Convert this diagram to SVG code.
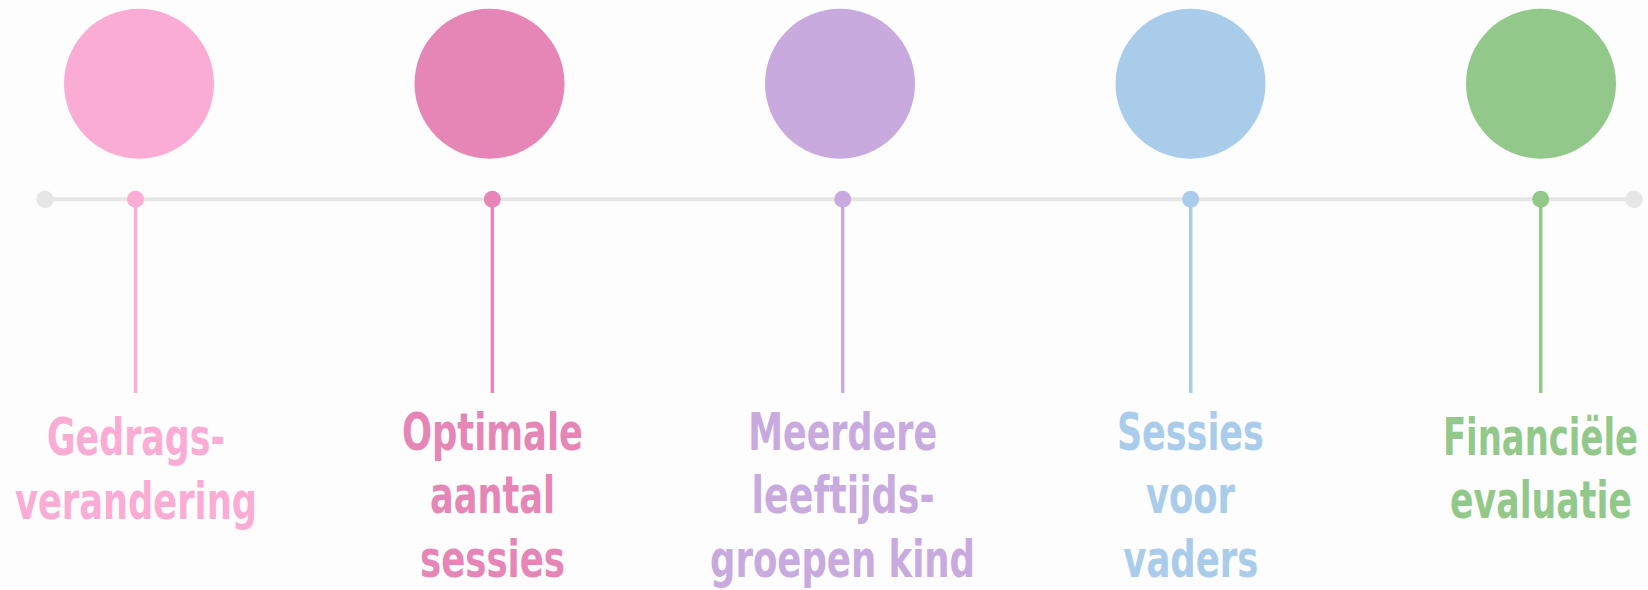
<svg xmlns="http://www.w3.org/2000/svg" width="1648" height="590" viewBox="0 0 1648 590">
<style>
.lbl{font-family:"Liberation Sans Narrow","DejaVu Sans Condensed","Liberation Sans",sans-serif;font-weight:bold;font-size:52px;text-anchor:middle}
.axis{stroke:#E6E6E6;stroke-width:4;fill:none}
.end{fill:#E6E6E6}
.c1{fill:#FAACD5}.s1{stroke:#FAACD5}
.c2{fill:#E686B6}.s2{stroke:#E686B6}
.c3{fill:#C8AADE}.s3{stroke:#C8AADE}
.c4{fill:#A8CCEA}.s4{stroke:#A8CCEA}
.c5{fill:#92C98A}.s5{stroke:#92C98A}
.stem{stroke-width:3.5;fill:none}
</style>
<rect x="0" y="0" width="1648" height="590" fill="#FDFDFD"/>
<g id="connectors">
<line class="axis" x1="45" y1="199.3" x2="1634" y2="199.3"/>
<circle class="end" cx="45" cy="199.3" r="8.7"/>
<circle class="end" cx="1634" cy="199.3" r="8.7"/>
<line class="stem s1" x1="135.5" y1="199" x2="135.5" y2="393"/>
<line class="stem s2" x1="492.3" y1="199" x2="492.3" y2="393"/>
<line class="stem s3" x1="842.7" y1="199" x2="842.7" y2="393"/>
<line class="stem s4" x1="1190.7" y1="199" x2="1190.7" y2="393"/>
<line class="stem s5" x1="1540.7" y1="199" x2="1540.7" y2="393"/>
</g>
<g id="node1">
<circle class="c1" cx="139" cy="83.7" r="75"/>
<circle class="c1" cx="135.5" cy="199.3" r="8.5"/>
<text class="lbl c1"><tspan x="136" y="455" textLength="178" lengthAdjust="spacingAndGlyphs">Gedrags-</tspan><tspan x="136" y="518.5" textLength="242" lengthAdjust="spacingAndGlyphs">verandering</tspan></text>
</g>
<g id="node2">
<circle class="c2" cx="489.5" cy="83.7" r="75"/>
<circle class="c2" cx="492.3" cy="199.3" r="8.5"/>
<text class="lbl c2"><tspan x="492.5" y="449.5" textLength="181" lengthAdjust="spacingAndGlyphs">Optimale</tspan><tspan x="492.5" y="513" textLength="125" lengthAdjust="spacingAndGlyphs">aantal</tspan><tspan x="492.5" y="576.5" textLength="145" lengthAdjust="spacingAndGlyphs">sessies</tspan></text>
</g>
<g id="node3">
<circle class="c3" cx="840" cy="83.7" r="75"/>
<circle class="c3" cx="842.7" cy="199.3" r="8.5"/>
<text class="lbl c3"><tspan x="842.7" y="449.5" textLength="189" lengthAdjust="spacingAndGlyphs">Meerdere</tspan><tspan x="843" y="513" textLength="183" lengthAdjust="spacingAndGlyphs">leeftijds-</tspan><tspan x="842.5" y="576.5" textLength="265" lengthAdjust="spacingAndGlyphs">groepen kind</tspan></text>
</g>
<g id="node4">
<circle class="c4" cx="1190.5" cy="83.7" r="75"/>
<circle class="c4" cx="1190.7" cy="199.3" r="8.5"/>
<text class="lbl c4"><tspan x="1190.4" y="449.5" textLength="147" lengthAdjust="spacingAndGlyphs">Sessies</tspan><tspan x="1190.5" y="513" textLength="89" lengthAdjust="spacingAndGlyphs">voor</tspan><tspan x="1190.8" y="576.5" textLength="135" lengthAdjust="spacingAndGlyphs">vaders</tspan></text>
</g>
<g id="node5">
<circle class="c5" cx="1541" cy="83.7" r="75"/>
<circle class="c5" cx="1540.7" cy="199.3" r="8.5"/>
<text class="lbl c5" transform="scale(0.7 1)"><tspan x="2200.7" y="455" textLength="278.6" lengthAdjust="spacingAndGlyphs">Financiële</tspan><tspan x="2201.4" y="518.5" textLength="260" lengthAdjust="spacingAndGlyphs">evaluatie</tspan></text>
</g>
</svg>
